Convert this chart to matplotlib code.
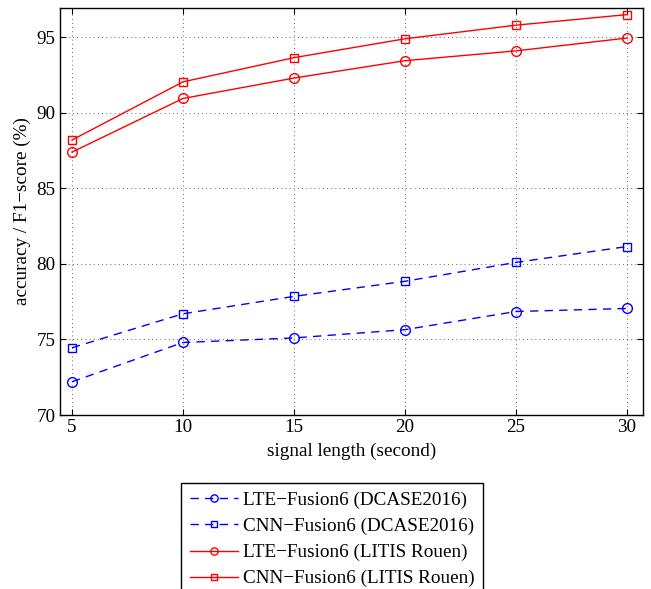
import matplotlib
matplotlib.use("Agg")
import matplotlib.pyplot as plt

plt.rcParams['font.family'] = ['Liberation Serif', 'DejaVu Serif']
plt.rcParams['mathtext.fontset'] = 'stix'

lengths = [5, 10, 15, 20, 25, 30]
lte_dcase = [72.2, 74.8, 75.1, 75.65, 76.85, 77.05]
cnn_dcase = [74.45, 76.7, 77.85, 78.85, 80.1, 81.15]
lte_litis = [87.4, 90.95, 92.3, 93.45, 94.1, 94.95]
cnn_litis = [88.2, 92.05, 93.65, 94.9, 95.8, 96.5]

labels = ["LTE\u2212Fusion6 (DCASE2016)", "CNN\u2212Fusion6 (DCASE2016)",
          "LTE\u2212Fusion6 (LITIS Rouen)", "CNN\u2212Fusion6 (LITIS Rouen)"]
xticks = [5, 10, 15, 20, 25, 30]
yticks = [70, 75, 80, 85, 90, 95]

FS = 13.8
fig = plt.figure(figsize=(6.51, 5.89), dpi=100)
ax = fig.add_axes([60/651, 1-415/589, (643-60)/651, (415-7.5)/589])

dash = (0, (6, 4.5))
ax.plot(lengths, lte_dcase, color='blue', linestyle=dash, lw=1, marker='o', ms=7,
        mfc='none', mec='blue', mew=1, label=labels[0])
ax.plot(lengths, cnn_dcase, color='blue', linestyle=dash, lw=1, marker='s', ms=5.5,
        mfc='none', mec='blue', mew=1, label=labels[1])
ax.plot(lengths, lte_litis, color='red', linestyle='-', lw=1, marker='o', ms=7,
        mfc='none', mec='red', mew=1, label=labels[2])
ax.plot(lengths, cnn_litis, color='red', linestyle='-', lw=1, marker='s', ms=5.5,
        mfc='none', mec='red', mew=1, label=labels[3])

ax.set_xlim(4.46, 30.72)
ax.set_ylim(70, 96.97)
ax.set_xticks(xticks)
ax.set_yticks(yticks)
ax.tick_params(direction='in', top=True, right=True, labelsize=FS, length=4, width=0.8, pad=3)
ax.grid(True, linestyle=(0, (1, 4)), color='black', lw=0.6, alpha=0.8)
for s in ax.spines.values():
    s.set_linewidth(1)
ax.set_xlabel("signal length (second)", fontsize=FS, labelpad=5)
ax.set_ylabel("accuracy / F1\u2212score (%)", fontsize=FS, labelpad=4)

fig.legend(loc='upper center', bbox_to_anchor=(332/651, 1-483/589), fontsize=FS,
           frameon=True, fancybox=False, edgecolor='black', framealpha=1,
           handlelength=2.5, handletextpad=0.25, labelspacing=0.45, borderpad=0.45,
           borderaxespad=0, markerscale=0.75)

fig.savefig("out.png", dpi=100)
